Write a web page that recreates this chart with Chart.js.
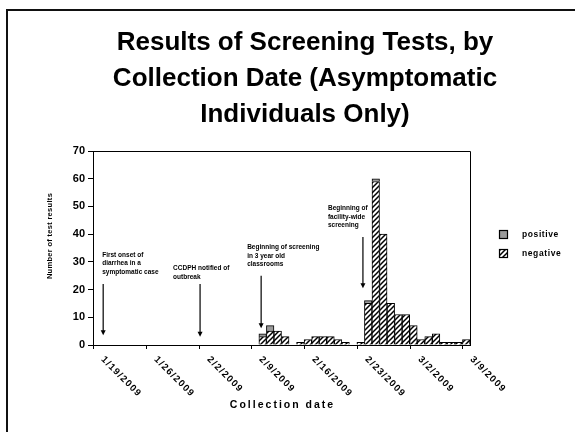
<!DOCTYPE html>
<html><head><meta charset="utf-8">
<script src="https://cdn.jsdelivr.net/npm/chart.js@4.4.1/dist/chart.umd.min.js"></script>
<style>html,body{margin:0;padding:0;background:#fff;}#wrap{width:575px;height:432px;position:relative;}</style>
</head><body><div id="wrap"><canvas id="c" width="575" height="432"></canvas></div>
<script>
// ---- data ----
const categories = ['1/19','1/20','1/21','1/22','1/23','1/24','1/25','1/26','1/27','1/28','1/29','1/30','1/31',
 '2/1','2/2','2/3','2/4','2/5','2/6','2/7','2/8','2/9','2/10','2/11','2/12','2/13','2/14','2/15','2/16','2/17',
 '2/18','2/19','2/20','2/21','2/22','2/23','2/24','2/25','2/26','2/27','2/28','3/1','3/2','3/3','3/4','3/5',
 '3/6','3/7','3/8','3/9'];
const negativeValues = [0,0,0,0,0,0,0,0,0,0,0,0,0,0,0,0,0,0,0,0,0,0,
 3,5,5,3,0,1,2,3,3,3,2,1,0,1,15,59,40,15,11,11,7,2,3,4,1,1,1,2];
const positiveValues = [0,0,0,0,0,0,0,0,0,0,0,0,0,0,0,0,0,0,0,0,0,0,
 1,2,0,0,0,0,0,0,0,0,0,0,0,0,1,1,0,0,0,0,0,0,0,0,0,0,0,0];
const seriesLabels = ['negative','positive'];
const tickLabels = ['1/19/2009','1/26/2009','2/2/2009','2/9/2009','2/16/2009','2/23/2009','3/2/2009','3/9/2009'];
const tickIndices = [0,7,14,21,28,35,42,49];
const yTicks = [0,10,20,30,40,50,60,70];
const titleLines = ['Results of Screening Tests, by','Collection Date (Asymptomatic','Individuals Only)'];
const xTitle = 'Collection date';
const yTitle = 'Number of test results';
const annotations = [
  {x:0.85, yTop:22, yTip:3.5, lines:['First onset of','diarrhea in a','symptomatic case'], tx:-1, ty:31.8},
  {x:13.7, yTop:22, yTip:3, lines:['CCDPH notified of','outbreak'], tx:-27, ty:27},
  {x:21.8, yTop:25, yTip:6, lines:['Beginning of screening','in 3 year old','classrooms'], tx:-14, ty:34.6},
  {x:35.3, yTop:39, yTip:20.5, lines:['Beginning of','facility-wide','screening'], tx:-35, ty:48.7}
];

function hatch(){
  const s=5, c=document.createElement('canvas'); c.width=s; c.height=s;
  const g=c.getContext('2d'); g.fillStyle='#fff'; g.fillRect(0,0,s,s);
  g.strokeStyle='#000'; g.lineWidth=1.5; g.beginPath();
  g.moveTo(-1,s+1); g.lineTo(s+1,-1);
  g.moveTo(-1,1); g.lineTo(1,-1);
  g.moveTo(s-1,s+1); g.lineTo(s+1,s-1);
  g.stroke();
  return g.createPattern(c,'repeat');
}
const hatchPat = hatch();
const posColor = '#9a9a9a';

const FONT = 'Arial, "Liberation Sans", sans-serif';

const extras = {
  id:'extras',
  afterDraw(chart){
    const {ctx, chartArea:a} = chart;
    const xs = chart.scales.x, ys = chart.scales.y;
    ctx.save();
    // slide border
    ctx.strokeStyle='#111'; ctx.lineWidth=2;
    ctx.beginPath(); ctx.moveTo(7,432); ctx.lineTo(7,10); ctx.lineTo(575,10); ctx.stroke();
    // frame top/right
    ctx.strokeStyle='#000'; ctx.lineWidth=1;
    ctx.beginPath(); ctx.moveTo(a.left,a.top+0.5); ctx.lineTo(a.right+0.5,a.top+0.5); ctx.lineTo(a.right+0.5,a.bottom); ctx.stroke();
    // x ticks + labels
    ctx.fillStyle='#000';
    ctx.font='bold 9.5px '+FONT;
    ctx.letterSpacing='1.2px';
    tickIndices.forEach((idx,i)=>{
      const px = Math.round(xs.getPixelForValue(idx-0.5))+0.5;
      ctx.beginPath(); ctx.moveTo(px,a.bottom); ctx.lineTo(px,a.bottom+4); ctx.stroke();
      ctx.save();
      ctx.translate(px+9, a.bottom+13);
      ctx.rotate(Math.PI/4);
      ctx.textAlign='left'; ctx.textBaseline='middle';
      ctx.fillText(tickLabels[i],0,0);
      ctx.restore();
    });
    // x title
    ctx.font='bold 10.5px '+FONT;
    ctx.letterSpacing='2px';
    ctx.textAlign='center'; ctx.textBaseline='middle';
    ctx.fillText(xTitle, (a.left+a.right)/2+1, 405);
    // y title
    ctx.font='bold 7.5px '+FONT;
    ctx.letterSpacing='0.3px';
    ctx.save(); ctx.translate(50, 236); ctx.rotate(-Math.PI/2);
    ctx.fillText(yTitle, 0, 0); ctx.restore();
    ctx.letterSpacing='0px';
    // annotations
    ctx.font='bold 6.5px '+FONT;
    ctx.textAlign='left'; ctx.textBaseline='alphabetic';
    annotations.forEach(an=>{
      const px = xs.getPixelForValue(an.x);
      const y1 = ys.getPixelForValue(an.yTop), y2 = ys.getPixelForValue(an.yTip);
      ctx.lineWidth=1.2;
      ctx.beginPath(); ctx.moveTo(px,y1); ctx.lineTo(px,y2-4); ctx.stroke();
      ctx.beginPath(); ctx.moveTo(px-2.5,y2-5); ctx.lineTo(px+2.5,y2-5); ctx.lineTo(px,y2); ctx.closePath(); ctx.fill();
      const ty = ys.getPixelForValue(an.ty);
      an.lines.forEach((t,k)=>ctx.fillText(t, px+an.tx, ty+k*8.5));
    });
    // legend
    const items = [{label:seriesLabels[1], fill:posColor},{label:seriesLabels[0], fill:hatchPat}];
    ctx.font='bold 8.5px '+FONT; ctx.textBaseline='middle'; ctx.letterSpacing='0.6px';
    items.forEach((it,k)=>{
      const y = 230 + k*19;
      ctx.fillStyle=it.fill; ctx.fillRect(499.5,y+0.5,8,8);
      ctx.strokeStyle='#000'; ctx.lineWidth=1.2; ctx.strokeRect(499.5,y+0.5,8,8);
      ctx.fillStyle='#000'; ctx.fillText(it.label, 522, y+4.5);
    });
    ctx.restore();
  }
};

new Chart(document.getElementById('c'), {
  type:'bar',
  data:{
    labels: categories,
    datasets:[
      {label:seriesLabels[0], data:negativeValues, backgroundColor:hatchPat, borderColor:'#000', borderWidth:1, categoryPercentage:1, barPercentage:1, yAxisID:'y'},
      {label:seriesLabels[1], data:positiveValues, backgroundColor:posColor, borderColor:'#000', borderWidth:1, categoryPercentage:1, barPercentage:1, yAxisID:'y'}
    ]
  },
  options:{
    responsive:false, animation:false,
    layout:{padding:{left:35,right:0,top:0,bottom:0}},
    plugins:{
      legend:{display:false},
      tooltip:{enabled:false},
      title:{display:true, text:titleLines, color:'#000',
        font:{family:FONT, size:26, weight:'bold', lineHeight:'36px'},
        padding:{top:25, bottom:18}}
    },
    scales:{
      x:{stacked:true, grid:{display:false}, border:{display:true,color:'#000',width:1},
        ticks:{display:false},
        afterFit(s){ s.height = 432-345; }
      },
      y:{stacked:true, min:0, max:70, position:'left',
        afterBuildTicks(s){ s.ticks = yTicks.map(v=>({value:v})); },
        ticks:{color:'#000', font:{family:FONT,size:11,weight:'bold'}, padding:3},
        grid:{drawOnChartArea:false, drawTicks:true, tickLength:5, color:'#000'},
        border:{display:true,color:'#000',width:1},
        afterFit(s){ s.width = 93-35; }
      },
      yR:{type:'linear', position:'right', display:true,
        grid:{display:false}, border:{display:false}, ticks:{display:false},
        afterFit(s){ s.width = 105; }
      }
    }
  },
  plugins:[extras]
});
</script></body></html>
